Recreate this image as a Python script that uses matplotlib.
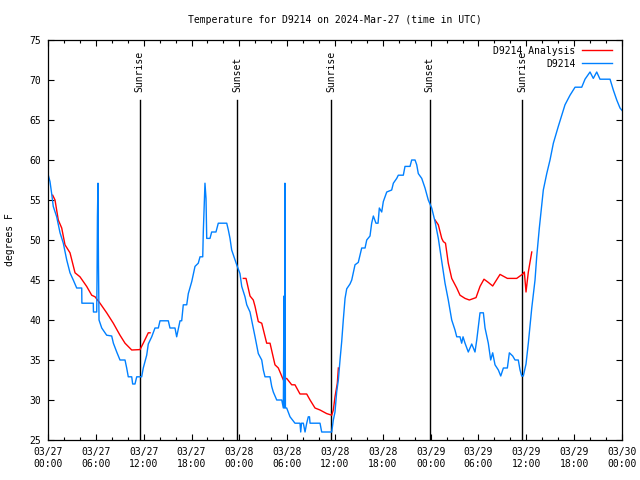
import numpy as np
import matplotlib
matplotlib.use("Agg")
import matplotlib.pyplot as plt
from matplotlib.ticker import MultipleLocator

# Observed station temperature (hours since 2024-03-27 00:00 UTC, deg F)
obs_hours = [0.04, 0.25, 0.46, 0.66, 1.09, 1.51, 1.92, 2.35, 2.76, 3.17, 3.60, 4.23, 4.25,
             5.68, 5.70, 6.11, 6.15, 6.20, 6.27, 6.33, 6.40, 6.74, 7.36, 7.99, 8.20, 8.62,
             9.03, 9.66, 9.87, 10.07, 10.50, 10.62, 10.91, 11.13, 11.75, 11.95, 12.38, 12.58,
             13.01, 13.42, 13.84, 14.05, 15.09, 15.30, 15.93, 16.14, 16.56, 16.77, 16.97,
             17.40, 17.60, 18.03, 18.44, 18.85, 19.07, 19.41, 19.48, 19.69, 19.82, 19.91,
             20.32, 20.53, 21.07, 21.36, 22.42, 22.62, 22.83, 23.04, 23.46, 23.67, 24.08,
             24.30, 24.71, 24.93, 25.34, 25.75, 25.97, 26.38, 26.81, 27.01, 27.22, 27.85,
             28.06, 28.26, 28.69, 29.32, 29.52, 29.60, 29.66, 29.72, 29.78, 29.94, 30.36,
             30.98, 31.61, 31.70, 31.80, 32.03, 32.24, 32.45, 32.65, 32.80, 32.87, 34.12,
             34.33, 35.59, 35.79, 36.00, 36.21, 36.42, 36.63, 36.84, 37.04, 37.26, 37.47,
             37.88, 38.10, 38.51, 38.92, 39.35, 39.77, 39.98, 40.39, 40.60, 40.81, 41.14,
             41.40, 41.56, 41.86, 42.06, 42.49, 43.11, 43.32, 43.74, 43.94, 44.57, 44.78,
             45.41, 45.62, 46.04, 46.25, 46.45, 46.88, 47.29, 47.70, 48.13, 48.55, 48.96,
             49.39, 49.80, 50.21, 50.64, 51.05, 51.27, 51.68, 51.89, 52.06, 52.31, 52.72,
             53.15, 53.56, 53.78, 54.19, 54.61, 54.82, 55.23, 55.53, 55.78, 56.07, 56.49,
             56.79, 57.12, 57.62, 57.87, 58.29, 58.58, 58.99, 59.21, 59.42, 59.62, 59.96,
             60.25, 60.68, 61.09, 61.30, 61.63, 62.13, 62.56, 62.97, 63.39, 64.01, 64.44,
             64.85, 65.48, 66.11, 66.95, 67.36, 67.99, 68.40, 68.83, 69.24, 70.50, 70.91,
             71.34, 71.75, 72.0]
obs_temp = [58.1, 57.3, 55.8, 54.2, 52.9, 50.9, 49.6, 47.5, 45.9, 45.0, 44.0, 44.0, 42.1,
            42.1, 41.0, 41.0, 45.0, 52.9, 57.1, 47.0, 40.0, 39.0, 38.1, 38.0, 37.1, 36.0,
            35.0, 35.0, 34.0, 32.9, 32.9, 32.0, 32.0, 32.9, 32.9, 34.0, 35.6, 37.0,
            37.9, 39.0, 39.0, 39.9, 39.9, 39.0, 39.0, 37.9, 39.9, 39.9, 41.9,
            41.9, 43.3, 44.8, 46.7, 47.1, 47.9, 47.9, 51.0, 57.1, 55.2, 50.2,
            50.2, 51.0, 51.0, 52.1, 52.1, 51.25, 50.2, 48.75, 47.5, 46.9, 45.8,
            44.2, 42.9, 41.9, 41.0, 39.0, 37.9, 35.8, 35.0, 33.75, 32.9, 32.9,
            31.7, 31.0, 30.0, 30.0, 29.0, 43.0, 29.0, 57.1, 29.0, 29.0, 27.9,
            27.1, 27.1, 26.0, 27.1, 27.1, 26.0, 27.1, 27.9, 27.9, 27.1, 27.1,
            26.0, 26.0, 27.5, 28.5, 31.0, 32.5, 35.0, 37.3, 40.0, 42.7, 43.9,
            44.5, 45.0, 46.9, 47.2, 49.0, 49.0, 50.0, 50.5, 52.1, 53.0, 52.1,
            52.1, 54.0, 53.5, 54.8, 56.0, 56.25, 57.1, 57.7, 58.1, 58.1, 59.2,
            59.2, 60.0, 60.0, 59.4, 58.3, 57.7, 56.5, 55.0, 54.0, 52.3, 50.2,
            47.3, 44.6, 42.5, 40.0, 38.75, 37.9, 37.9, 37.1, 37.9, 37.1, 36.0,
            37.0, 36.0, 37.5, 40.9, 40.9, 39.0, 37.1, 35.0, 35.9, 34.4, 33.75,
            33.0, 34.0, 34.0, 35.9, 35.5, 35.0, 35.0, 33.75, 33.0, 33.0, 34.5,
            37.1, 41.5, 45.0, 47.9, 51.5, 56.25, 58.3, 60.0, 62.1, 64.2, 65.6,
            66.9, 68.1, 69.1, 69.1, 70.1, 71.0, 70.2, 71.0, 70.1, 70.1, 68.75,
            67.5, 66.5, 66.2]

# Analysis temperature, three separate segments (NaN = gap)
ana_hours = [0.59, 0.88, 1.29, 1.72, 2.13, 2.76, 3.39, 4.01, 4.85, 5.48, 5.90, 6.52, 7.36,
             8.19, 9.03, 9.66, 10.50, 11.54, 11.95, 12.58, 12.80, 12.81,
             24.50, 24.84, 25.34, 25.75, 25.97, 26.38, 26.81, 27.43, 27.85, 28.47, 28.89,
             29.52, 29.94, 30.57, 30.98, 31.61, 32.45, 32.87, 33.49, 34.12, 34.96, 35.59,
             35.79, 36.00, 36.29, 36.42, 36.43,
             48.55, 48.96, 49.39, 49.59, 49.86, 50.21, 50.64, 51.27, 51.68, 52.31, 52.85,
             53.69, 54.19, 54.69, 55.23, 55.78, 56.70, 57.62, 58.79, 59.62, 59.75, 59.96,
             60.25, 60.68]
ana_temp = [55.6, 55.0, 52.5, 51.5, 49.4, 48.4, 45.9, 45.4, 44.2, 43.1, 42.9, 42.1, 40.9,
            39.6, 38.1, 37.1, 36.25, 36.3, 37.1, 38.4, 38.4, np.nan,
            45.2, 45.2, 43.0, 42.5, 41.7, 39.8, 39.6, 37.1, 37.1, 34.4, 34.0,
            32.5, 32.7, 31.9, 31.9, 30.75, 30.75, 30.0, 29.0, 28.75, 28.3, 28.1,
            28.75, 30.4, 32.1, 34.0, np.nan,
            52.5, 51.9, 50.2, 49.8, 49.6, 47.1, 45.2, 44.0, 43.1, 42.7, 42.5,
            42.8, 44.2, 45.1, 44.7, 44.25, 45.7, 45.2, 45.2, 45.8, 46.0, 43.5,
            46.0, 48.5]

sun_hours = [11.48, 23.77, 35.56, 47.86, 59.46]
sun_labels = ["Sunrise", "Sunset", "Sunrise", "Sunset", "Sunrise"]

tick_hours = list(range(0, 73, 6))
tick_labels = ["03/27\n00:00", "03/27\n06:00", "03/27\n12:00", "03/27\n18:00",
               "03/28\n00:00", "03/28\n06:00", "03/28\n12:00", "03/28\n18:00",
               "03/29\n00:00", "03/29\n06:00", "03/29\n12:00", "03/29\n18:00",
               "03/30\n00:00"]

plt.rcParams['font.family'] = ['DejaVu Sans Mono']
plt.rcParams['font.size'] = 7

fig = plt.figure(figsize=(6.4, 4.8), dpi=100)
ax = fig.add_axes([48/640, 40/480, 574/640, 400/480])

for h, lab in zip(sun_hours, sun_labels):
    ax.plot([h, h], [25, 67.5], color='black', lw=1.0)
    ax.text(h, 68.5, lab, rotation=90, ha='center', va='bottom', fontsize=7)

ax.plot(ana_hours, ana_temp, color='#ff0000', lw=1.0, label='D9214 Analysis')
ax.plot(obs_hours, obs_temp, color='#0080ff', lw=1.0, label='D9214')

ax.set_xlim(0, 72)
ax.set_ylim(25, 75)
ax.set_xticks(tick_hours)
ax.set_xticklabels(tick_labels)
ax.xaxis.set_minor_locator(MultipleLocator(2))
ax.yaxis.set_major_locator(MultipleLocator(5))
ax.tick_params(which='both', direction='in', top=True, right=True, width=0.8)
ax.tick_params(which='major', length=4.5, pad=5)
ax.tick_params(which='minor', length=2.5)
for s in ax.spines.values():
    s.set_linewidth(0.9)

ax.set_ylabel('degrees F', labelpad=10)
ax.set_title('Temperature for D9214 on 2024-Mar-27 (time in UTC)', fontsize=7, pad=12)

leg = ax.legend(loc='upper right', frameon=False, markerfirst=False, handlelength=3.0,
                handletextpad=0.7, labelspacing=0.3, borderaxespad=0.2,
                bbox_to_anchor=(0.992, 1.0))

fig.savefig('out.png', dpi=100)
